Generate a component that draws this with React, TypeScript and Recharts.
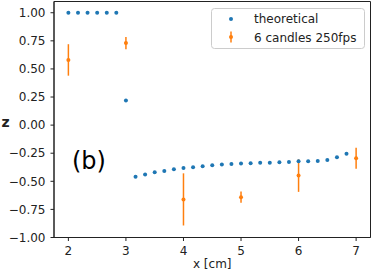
import React from 'react';
import { ComposedChart, Scatter, XAxis, YAxis, ErrorBar, ReferenceArea } from 'recharts';

const theoX = [2, 2.167, 2.333, 2.5, 2.667, 2.833, 3, 3.167, 3.333, 3.5, 3.667, 3.833, 4, 4.167, 4.333, 4.5, 4.667, 4.833, 5, 5.167, 5.333, 5.5, 5.667, 5.833, 6, 6.167, 6.333, 6.5, 6.667, 6.833];
const theoY = [1, 1, 1, 1, 1, 1, 0.22, -0.46, -0.44, -0.42, -0.408, -0.393, -0.382, -0.375, -0.366, -0.357, -0.351, -0.345, -0.342, -0.34, -0.334, -0.334, -0.331, -0.328, -0.322, -0.322, -0.319, -0.31, -0.286, -0.254];

const measX = [2, 3, 4, 5, 6, 7];
const measY = [0.58, 0.73, -0.661, -0.641, -0.449, -0.295];
const measErr = [0.14, 0.055, 0.232, 0.05, 0.145, 0.093];

const xTicks = [2, 3, 4, 5, 6, 7];
const yTicks = [-1, -0.75, -0.5, -0.25, 0, 0.25, 0.5, 0.75, 1];

const seriesNames = ['theoretical', '6 candles 250fps'];
const panelLabel = '(b)';
const xLabel = 'x [cm]';
const yLabel = 'z';

const BLUE = '#1f77b4';
const ORANGE = '#ff7f0e';
const FONT = 'DejaVu Sans';

const theoData = theoX.map((x, i) => ({ x, y: theoY[i] }));
const measData = measX.map((x, i) => ({ x, y: measY[i], err: measErr[i] }));

const fmtY = (v: number) => (v < 0 ? '\u2212' + Math.abs(v).toFixed(2) : v.toFixed(2));

const Dot = (color: string) => (props: any) => (
  <circle cx={props.cx} cy={props.cy} r={2} fill={color} />
);

export default function App() {
  return (
    <div style={{ position: 'absolute', left: 0, top: 0, width: 374, height: 272, background: '#fff' }}>
      <ComposedChart width={374} height={272} margin={{ top: 1.5, right: 3.5, left: 0, bottom: 0 }}>
        <XAxis
          type="number"
          dataKey="x"
          domain={[1.75, 7.25]}
          ticks={xTicks}
          allowDataOverflow
          height={34.5}
          tickSize={3.5}
          tickMargin={5}
          axisLine={{ stroke: '#222', strokeWidth: 1 }}
          tickLine={{ stroke: '#222' }}
          tick={{ fontSize: 12, fill: '#222', fontFamily: FONT }}
          label={{
            content: (p: any) => (
              <text x={p.viewBox.x + p.viewBox.width / 2} y={268} textAnchor="middle" fontSize={12} fontFamily={FONT} fill="#222">{xLabel}</text>
            ),
          }}
        />
        <YAxis
          type="number"
          dataKey="y"
          domain={[-1, 1.1]}
          ticks={yTicks}
          allowDataOverflow
          width={54}
          tickSize={3.5}
          tickMargin={5}
          tickFormatter={fmtY}
          axisLine={{ stroke: '#222', strokeWidth: 1 }}
          tickLine={{ stroke: '#222' }}
          tick={{ fontSize: 12, fill: '#222', fontFamily: FONT }}
          label={{
            content: () => (
              <text x={1.5} y={126.5} fontSize={14} fontWeight="bold" fontFamily={FONT} fill="#222">{yLabel}</text>
            ),
          }}
        />
        <ReferenceArea x1={1.75} x2={7.25} y1={-1} y2={1.1} fill="none" stroke="#222" strokeWidth={1} ifOverflow="visible" />
        <Scatter data={theoData} dataKey="y" fill={BLUE} shape={Dot(BLUE)} isAnimationActive={false} />
        <Scatter data={measData} dataKey="y" fill={ORANGE} shape={Dot(ORANGE)} isAnimationActive={false}>
          <ErrorBar dataKey="err" direction="y" width={0} stroke={ORANGE} strokeWidth={1.5} isAnimationActive={false} />
        </Scatter>
      </ComposedChart>
      <svg width={374} height={272} style={{ position: 'absolute', left: 0, top: 0, pointerEvents: 'none' }}>
        <text x={72} y={169} fontSize={24} fontFamily={FONT} fill="#000">{panelLabel}</text>
        <rect x={211.5} y={8.5} width={153} height={40} rx={3} fill="#fff" fillOpacity={0.8} stroke="#ccc" strokeWidth={1} />
        <circle cx={231} cy={19} r={2} fill={BLUE} />
        <text x={254} y={23.3} fontSize={12} fontFamily={FONT} fill="#222">{seriesNames[0]}</text>
        <line x1={231} x2={231} y1={31.5} y2={42.5} stroke={ORANGE} strokeWidth={1.5} />
        <circle cx={231} cy={37} r={2} fill={ORANGE} />
        <text x={254} y={41.7} fontSize={12} fontFamily={FONT} fill="#222">{seriesNames[1]}</text>
      </svg>
    </div>
  );
}
